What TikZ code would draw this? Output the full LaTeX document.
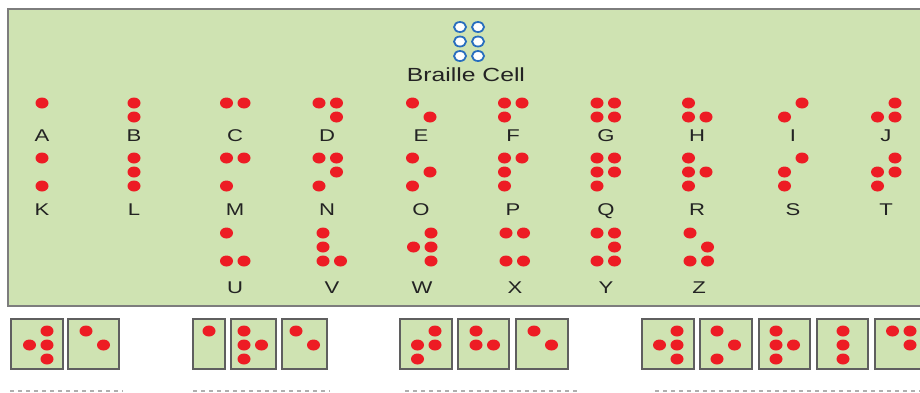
\documentclass[tikz,border=0pt]{standalone}
\usepackage{fontspec}
\setmainfont{Liberation Sans}
\usepackage{graphicx}
\definecolor{panel}{RGB}{207,227,178}
\definecolor{dotred}{RGB}{237,28,36}
\definecolor{framegray}{RGB}{125,125,125}
\definecolor{boxgray}{RGB}{95,95,95}
\definecolor{cellblue}{RGB}{40,110,190}
\definecolor{ink}{RGB}{35,35,35}
\definecolor{rulegray}{RGB}{175,175,175}
\newcommand\widetext[1]{\scalebox{1.3}[1]{#1}}
% braille cell: #2 = left column x, #3 = top row y, #4 = raised dots (1-3 left, 4-6 right)
\newcommand\brcell[4][14]{%
  \foreach \d in {#4}{%
    \pgfmathtruncatemacro\bcol{\d>3}%
    \pgfmathtruncatemacro\brow{mod(\d-1,3)}%
    \fill[dotfill] ({#2+17.5*\bcol},{#3+#1*\brow}) ellipse[x radius=6.5pt, y radius=5.5pt];
  }}
\tikzset{
  dotfill/.style={fill=dotred},
  letter/.style={text=ink, font=\fontsize{17}{17}\selectfont, inner sep=0pt, anchor=base},
  title/.style={text=ink, font=\fontsize{19}{19}\selectfont, inner sep=0pt, anchor=base},
  panelframe/.style={fill=panel, draw=framegray, line width=1.6pt},
  boxframe/.style={fill=panel, draw=boxgray, line width=1.5pt},
  opendot/.style={fill=white, draw=cellblue, line width=1.8pt},
  rule/.style={draw=rulegray, line width=2pt, dash pattern=on 4pt off 4pt},
}
\begin{document}
\begin{tikzpicture}[x=1pt, y=-1pt]
\useasboundingbox (0,0) rectangle (920,392);
\clip (0,0) rectangle (920,392);

% alphabet panel
\draw[panelframe] (8,9) rectangle (935,306);

% empty cell with its caption
\foreach \cx in {460,478}
  \foreach \cy in {27,41.5,56}
    \draw[opendot] (\cx,\cy) ellipse[x radius=6pt, y radius=5pt];
\node[title] (caption) at (466,81) {\widetext{Braille Cell}};

% first row: A-J
\brcell{42}{103}{1}          \node[letter] (lA) at (42,141.5) {\widetext{A}};
\brcell{134}{103}{1,2}       \node[letter] (lB) at (134,141.5) {\widetext{B}};
\brcell{226.5}{103}{1,4}     \node[letter] (lC) at (235,141.5) {\widetext{C}};
\brcell{319}{103}{1,4,5}     \node[letter] (lD) at (327,141.5) {\widetext{D}};
\brcell{412.5}{103}{1,5}     \node[letter] (lE) at (421,141.5) {\widetext{E}};
\brcell{504.5}{103}{1,2,4}   \node[letter] (lF) at (513,141.5) {\widetext{F}};
\brcell{597}{103}{1,2,4,5}   \node[letter] (lG) at (606,141.5) {\widetext{G}};
\brcell{688.5}{103}{1,2,5}   \node[letter] (lH) at (697,141.5) {\widetext{H}};
\brcell{784.5}{103}{2,4}     \node[letter] (lI) at (793,141.5) {\widetext{I}};
\brcell{877.5}{103}{2,4,5}   \node[letter] (lJ) at (886,141.5) {\widetext{J}};

% second row: K-T
\brcell{42}{158}{1,3}        \node[letter] (lK) at (42,215) {\widetext{K}};
\brcell{134}{158}{1,2,3}     \node[letter] (lL) at (134,215) {\widetext{L}};
\brcell{226.5}{158}{1,3,4}   \node[letter] (lM) at (235,215) {\widetext{M}};
\brcell{319}{158}{1,3,4,5}   \node[letter] (lN) at (327,215) {\widetext{N}};
\brcell{412.5}{158}{1,3,5}   \node[letter] (lO) at (421,215) {\widetext{O}};
\brcell{504.5}{158}{1,2,3,4} \node[letter] (lP) at (513,215) {\widetext{P}};
\brcell{597}{158}{1,2,3,4,5} \node[letter] (lQ) at (606,215) {\widetext{Q}};
\brcell{688.5}{158}{1,2,3,5} \node[letter] (lR) at (697,215) {\widetext{R}};
\brcell{784.5}{158}{2,3,4}   \node[letter] (lS) at (793,215) {\widetext{S}};
\brcell{877.5}{158}{2,3,4,5} \node[letter] (lT) at (886,215) {\widetext{T}};

% third row: U-Z
\brcell{226.5}{233}{1,3,6}   \node[letter] (lU) at (235,293) {\widetext{U}};
\brcell{323}{233}{1,2,3,6}   \node[letter] (lV) at (332,293) {\widetext{V}};
\brcell{413.5}{233}{2,4,5,6} \node[letter] (lW) at (422,293) {\widetext{W}};
\brcell{506}{233}{1,3,4,6}   \node[letter] (lX) at (515,293) {\widetext{X}};
\brcell{597}{233}{1,3,4,5,6} \node[letter] (lY) at (606,293) {\widetext{Y}};
\brcell{690}{233}{1,3,5,6}   \node[letter] (lZ) at (699,293) {\widetext{Z}};

% written words, one box per cell
\foreach \l/\r in {11/63,68/119,193/225,231/276,282/327,400/452,458/509,516/568,
                   642/694,700/752,759/810,817/868,875/927}
  \draw[boxframe] (\l,319) rectangle (\r,369);
\brcell{29.5}{331}{2,4,5,6}
\brcell{86}{331}{1,5}
\brcell{191.5}{331}{4}
\brcell{244}{331}{1,2,3,5}
\brcell{296}{331}{1,5}
\brcell{417.5}{331}{2,3,4,5}
\brcell{476}{331}{1,2,5}
\brcell{534}{331}{1,5}
\brcell{659.5}{331}{2,4,5,6}
\brcell{717}{331}{1,3,5}
\brcell{776}{331}{1,2,3,5}
\brcell{843}{331}{1,2,3}
\brcell{892.5}{331}{1,4,5}

% writing lines under the words
\draw[rule] (10,391) -- (123,391);
\draw[rule] (193,391) -- (330,391);
\draw[rule] (405,391) -- (577,391);
\draw[rule] (655,391) -- (925,391);
\end{tikzpicture}
\end{document}
